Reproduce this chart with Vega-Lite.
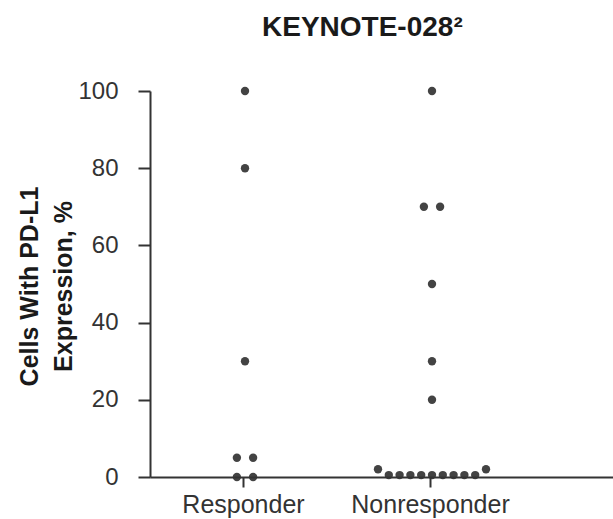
{
  "$schema": "https://vega.github.io/schema/vega-lite/v6.json",
  "width": 463,
  "height": 386,
  "autosize": {"type": "none"},
  "padding": {"left": 150, "top": 91, "right": 0, "bottom": 42},
  "background": "white",
  "title": {
    "text": "KEYNOTE-028²",
    "anchor": "start",
    "frame": "group",
    "dx": 112,
    "font": "Liberation Sans",
    "fontSize": 28,
    "fontWeight": "bold",
    "color": "#1a1a1a",
    "offset": 37
  },
  "data": {
    "values": [
      {"group": "Responder", "value": 100, "slot": 0},
      {"group": "Responder", "value": 80, "slot": 0},
      {"group": "Responder", "value": 30, "slot": 0},
      {"group": "Responder", "value": 5, "slot": -0.75},
      {"group": "Responder", "value": 5, "slot": 0.75},
      {"group": "Responder", "value": 0, "slot": -0.75},
      {"group": "Responder", "value": 0, "slot": 0.75},
      {"group": "Nonresponder", "value": 100, "slot": 0},
      {"group": "Nonresponder", "value": 70, "slot": -0.75},
      {"group": "Nonresponder", "value": 70, "slot": 0.75},
      {"group": "Nonresponder", "value": 50, "slot": 0},
      {"group": "Nonresponder", "value": 30, "slot": 0},
      {"group": "Nonresponder", "value": 20, "slot": 0},
      {"group": "Nonresponder", "value": 2, "slot": -5},
      {"group": "Nonresponder", "value": 2, "slot": 5},
      {"group": "Nonresponder", "value": 0.5, "slot": -4},
      {"group": "Nonresponder", "value": 0.5, "slot": -3},
      {"group": "Nonresponder", "value": 0.5, "slot": -2},
      {"group": "Nonresponder", "value": 0.5, "slot": -1},
      {"group": "Nonresponder", "value": 0.5, "slot": 0},
      {"group": "Nonresponder", "value": 0.5, "slot": 1},
      {"group": "Nonresponder", "value": 0.5, "slot": 2},
      {"group": "Nonresponder", "value": 0.5, "slot": 3},
      {"group": "Nonresponder", "value": 0.5, "slot": 4}
    ]
  },
  "mark": {"type": "circle", "size": 70, "color": "#333333", "opacity": 0.92},
  "encoding": {
    "x": {
      "field": "group",
      "type": "nominal",
      "sort": ["Responder", "Nonresponder"],
      "scale": {"paddingInner": 0, "paddingOuter": 0.238, "align": 0},
      "axis": {
        "title": null,
        "labelAngle": 0,
        "labelFont": "Liberation Sans",
        "labelFontSize": 25,
        "labelColor": "#333333",
        "labelPadding": 5,
        "domainColor": "#333333",
        "domainWidth": 2,
        "tickColor": "#333333",
        "tickWidth": 2,
        "tickSize": 10,
        "grid": false
      }
    },
    "xOffset": {
      "field": "slot",
      "type": "quantitative",
      "scale": {"domain": [-5, 5], "range": [41, 149]}
    },
    "y": {
      "field": "value",
      "type": "quantitative",
      "scale": {"domain": [0, 100], "nice": false},
      "axis": {
        "values": [0, 20, 40, 60, 80, 100],
        "title": ["Cells With PD-L1", "Expression, %"],
        "titleFont": "Liberation Sans",
        "titleFontSize": 25,
        "titleFontWeight": "bold",
        "titleColor": "#1a1a1a",
        "titleAngle": -90,
        "titleAlign": "center",
        "titleBaseline": "alphabetic",
        "titleLineHeight": 34,
        "titleX": -113,
        "titleY": 195,
        "labelFont": "Liberation Sans",
        "labelFontSize": 24,
        "labelColor": "#333333",
        "labelPadding": 20,
        "domainColor": "#333333",
        "domainWidth": 2,
        "tickColor": "#333333",
        "tickWidth": 2,
        "tickSize": 12,
        "grid": false
      }
    }
  },
  "config": {"view": {"stroke": null}}
}
